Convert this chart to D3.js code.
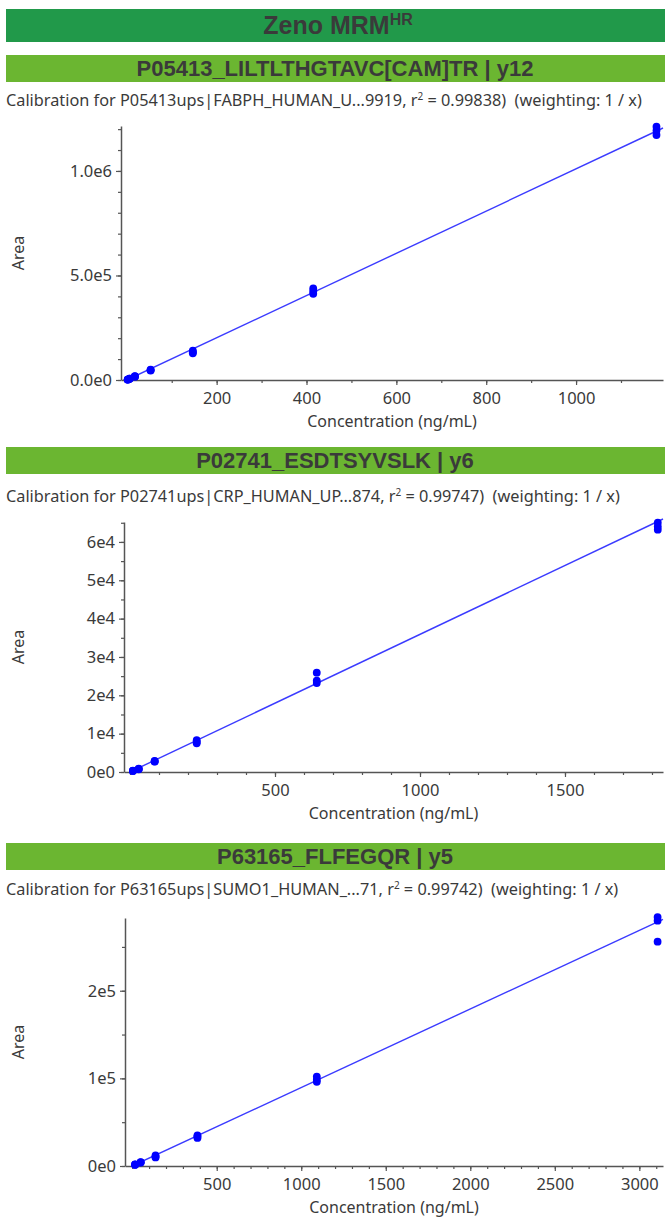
<!DOCTYPE html>
<html>
<head>
<meta charset="utf-8">
<script src="https://cdn.jsdelivr.net/npm/d3@7"></script>
<style>
  body { margin: 0; background: #fff; }
  text { font-family: "Segoe UI", "Noto Sans", sans-serif; fill: #3a3a3a; }
  .bar-title { font-family: "Liberation Sans", Arial, sans-serif; font-weight: bold; }
</style>
</head>
<body>
<svg id="chart"></svg>
<script>
// ---- data ----
var titles = ["P05413_LILTLTHGTAVC[CAM]TR | y12", "P02741_ESDTSYVSLK | y6", "P63165_FLFEGQR | y5"];
var calibHead = ["Calibration for P05413ups|FABPH_HUMAN_U...9919, r", "Calibration for P02741ups|CRP_HUMAN_UP...874, r", "Calibration for P63165ups|SUMO1_HUMAN_...71, r"];
var rSquared = ["0.99838", "0.99747", "0.99742"];

// panel 1
var conc1 = [2, 2, 2, 6, 6, 6, 18, 18, 18, 53, 53, 53, 147, 147, 147, 415, 415, 415, 1179, 1179, 1179];
var area1 = [1800, 2200, 2000, 5800, 6300, 6000, 17000, 18500, 16000, 50000, 47000, 45000, 140000, 133000, 128000, 438000, 425000, 412000, 1212000, 1193000, 1172000];
var xTicks1 = [200, 400, 600, 800, 1000];
var yTicks1 = [0, 500000, 1000000];
var yLabels1 = ["0.0e0", "5.0e5", "1.0e6"];

// panel 2
var conc2 = [10, 10, 10, 30, 30, 30, 85, 85, 85, 230, 230, 230, 644, 644, 644, 1820, 1820, 1820];
var area2 = [300, 350, 280, 900, 750, 700, 2900, 2750, 2700, 8300, 7800, 7500, 25900, 23800, 23200, 65000, 64000, 63200];
var xTicks2 = [500, 1000, 1500];
var yTicks2 = [0, 10000, 20000, 30000, 40000, 50000, 60000];
var yLabels2 = ["0e0", "1e4", "2e4", "3e4", "4e4", "5e4", "6e4"];

// panel 3
var conc3 = [17, 17, 17, 50, 50, 50, 138, 138, 138, 386, 386, 386, 1092, 1092, 1092, 3108, 3108, 3108];
var area3 = [1500, 1700, 1400, 4200, 3900, 4500, 12000, 10500, 9800, 35000, 33500, 32000, 102000, 98500, 96000, 284000, 280000, 256000];
var xTicks3 = [500, 1000, 1500, 2000, 2500, 3000];
var yTicks3 = [0, 100000, 200000];
var yLabels3 = ["0e0", "1e5", "2e5"];

// fitted lines (slope, intercept) as drawn
var fitSlope = [1010, 35.9, 89.6];
var fitIntercept = [0, 0, 0];

// ---- layout ----
var width = 665, height = 1219;
var svg = d3.select("#chart").attr("width", width).attr("height", height);

var panels = [
  { conc: conc1, area: area1, xTicks: xTicks1, yTicks: yTicks1, yLabels: yLabels1,
    bar: 55, cal: 106, left: 121, top: 126, bottom: 380,
    xDom: [-12.9, 1193.5], yDom: [0, 1215000], xMinor: 100, yMinor: 100000 },
  { conc: conc2, area: area2, xTicks: xTicks2, yTicks: yTicks2, yLabels: yLabels2,
    bar: 447, cal: 502, left: 124, top: 522, bottom: 772,
    xDom: [-20.7, 1838], yDom: [0, 65200], xMinor: 100, yMinor: 5000 },
  { conc: conc3, area: area3, xTicks: xTicks3, yTicks: yTicks3, yLabels: yLabels3,
    bar: 843, cal: 895, left: 125, top: 918, bottom: 1166,
    xDom: [-42.6, 3140], yDom: [0, 283000], xMinor: 100, yMinor: 50000 }
];
var right = 663;

// header
svg.append("rect").attr("x", 6).attr("y", 9).attr("width", width - 6).attr("height", 33).attr("fill", "#21994a");
var head = svg.append("text").attr("class", "bar-title").attr("x", 338).attr("y", 34)
  .attr("text-anchor", "middle").style("font-size", "25px");
head.append("tspan").text("Zeno MRM");
head.append("tspan").attr("dy", -9).style("font-size", "16px").text("HR");

panels.forEach(function (p, i) {
  // green bar
  svg.append("rect").attr("x", 6).attr("y", p.bar).attr("width", width - 6).attr("height", 27).attr("fill", "#6bb631");
  svg.append("text").attr("class", "bar-title").attr("x", 335).attr("y", p.bar + 21)
    .attr("text-anchor", "middle").style("font-size", "22px").text(titles[i]);

  // calibration line
  var cal = svg.append("text").attr("x", 6).attr("y", p.cal).style("font-size", "16.3px").style("white-space", "pre");
  cal.append("tspan").text(calibHead[i]);
  cal.append("tspan").attr("dy", -6).style("font-size", "10px").text("2");
  cal.append("tspan").attr("dy", 6).text(" = " + rSquared[i] + ")  (weighting: 1 / x)");

  var x = d3.scaleLinear().domain(p.xDom).range([p.left, right]);
  var y = d3.scaleLinear().domain(p.yDom).range([p.bottom, p.top]);
  var g = svg.append("g");

  // minor ticks
  var xMin = d3.range(0, p.xDom[1], p.xMinor);
  var yMin = d3.range(0, p.yDom[1], p.yMinor);
  g.append("g").attr("transform", "translate(0," + p.bottom + ")")
    .call(d3.axisBottom(x).tickValues(xMin).tickSize(3).tickSizeOuter(0).tickFormat(""))
    .call(function (a) { a.select(".domain").remove(); });
  g.append("g").attr("transform", "translate(" + p.left + ",0)")
    .call(d3.axisLeft(y).tickValues(yMin).tickSize(3).tickSizeOuter(0).tickFormat(""))
    .call(function (a) { a.select(".domain").remove(); });

  // major axes
  g.append("g").attr("transform", "translate(0," + p.bottom + ")")
    .call(d3.axisBottom(x).tickValues(p.xTicks).tickSize(5).tickPadding(7).tickSizeOuter(0)
      .tickFormat(d3.format("d")));
  g.append("g").attr("transform", "translate(" + p.left + ",0)")
    .call(d3.axisLeft(y).tickValues(p.yTicks).tickSize(5).tickPadding(4).tickSizeOuter(0)
      .tickFormat(function (d, k) { return p.yLabels[k]; }));
  g.selectAll(".tick line").attr("stroke", "#555").attr("stroke-width", 1.2);
  g.selectAll(".domain").attr("stroke", "#555").attr("stroke-width", 1.5);
  g.selectAll(".tick text").style("font-size", "16.5px").attr("fill", "#3a3a3a")
    .style("font-family", "\"Segoe UI\", \"Noto Sans\", sans-serif");

  // axis titles
  svg.append("text").attr("x", (p.left + right) / 2).attr("y", p.bottom + 47)
    .attr("text-anchor", "middle").style("font-size", "16px").text("Concentration (ng/mL)");
  svg.append("text").attr("transform", "translate(24," + (p.top + p.bottom) / 2 + ") rotate(-90)")
    .attr("text-anchor", "middle").style("font-size", "16px").text("Area");

  // fitted line, clipped to plot
  var clipId = "clip" + i;
  svg.append("clipPath").attr("id", clipId).append("rect")
    .attr("x", p.left).attr("y", p.top - 10).attr("width", right - p.left + 2).attr("height", p.bottom - p.top + 10);
  var fx = p.xDom;
  svg.append("line").attr("clip-path", "url(#" + clipId + ")")
    .attr("x1", x(0)).attr("y1", y(fitIntercept[i]))
    .attr("x2", x(fx[1])).attr("y2", y(fitSlope[i] * fx[1] + fitIntercept[i]))
    .attr("stroke", "#3b3bff").attr("stroke-width", 1.4);

  // points
  svg.append("g").selectAll("circle")
    .data(p.conc)
    .enter()
    .append("circle")
    .attr("cx", function (d) { return x(d); })
    .attr("cy", function (d, k) { return y(p.area[k]); })
    .attr("r", 3.9)
    .attr("fill", "#0000ff");
});
</script>
</body>
</html>
